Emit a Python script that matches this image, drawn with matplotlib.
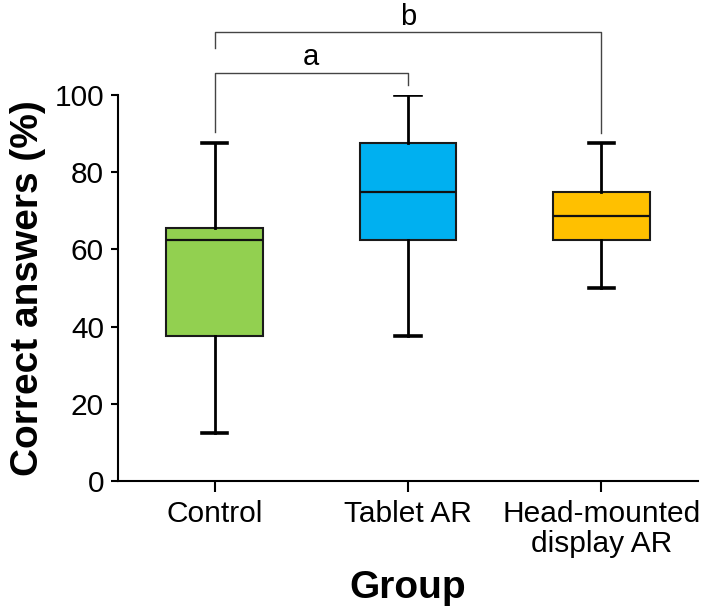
import matplotlib.pyplot as plt

plt.rcParams['font.family'] = ['Liberation Sans', 'DejaVu Sans']

# -------- datos --------
grupos = ["Control", "Tablet AR", "Head-mounted\ndisplay AR"]
minimo = [12.5, 37.5, 50.0]
q1 = [37.5, 62.5, 62.5]
mediana = [62.5, 75.0, 68.75]
q3 = [65.6, 87.5, 75.0]
maximo = [87.5, 100.0, 87.5]
colores = ["#92D050", "#00B0F0", "#FFC000"]

# comparaciones: (grupo i, grupo j, altura barra, pata i, pata j, letra)
comparaciones = [
    (1, 2, 105.8, 90.5, 102.6, "a"),
    (1, 3, 116.2, 112.3, 90.2, "b"),
]

stats = []
for i in range(len(grupos)):
    stats.append({
        "whislo": minimo[i], "q1": q1[i], "med": mediana[i],
        "q3": q3[i], "whishi": maximo[i], "fliers": [], "label": grupos[i],
    })

fig = plt.figure(figsize=(7.09, 6.11), dpi=100)
ax = fig.add_axes([0.1664, 0.2128, 0.818, 0.6317])

bp = ax.bxp(stats, positions=[1, 2, 3], widths=0.5, capwidths=0.13,
            patch_artist=True, showfliers=False,
            boxprops=dict(edgecolor="#1a1a1a", linewidth=1.5),
            medianprops=dict(color="#111111", linewidth=1.6),
            whiskerprops=dict(color="black", linewidth=2.0),
            capprops=dict(color="black", linewidth=2.6))
for caja, c in zip(bp["boxes"], colores):
    caja.set_facecolor(c)

# barras de significancia
for i, j, h, pi, pj, letra in comparaciones:
    ax.plot([i, i, j, j], [pi, h, h, pj], color="#444444", lw=1.0,
            clip_on=False)
    ax.text((i + j) / 2, h + 0.3, letra, ha="center", va="bottom",
            fontsize=21, clip_on=False)

ax.set_xlim(0.5, 3.5)
ax.set_ylim(0, 100)
ax.set_yticks([0, 20, 40, 60, 80, 100])
ax.set_xticks([1, 2, 3])
ax.set_xticklabels(grupos, linespacing=1.05)

for s in ["top", "right"]:
    ax.spines[s].set_visible(False)
for s in ["left", "bottom"]:
    ax.spines[s].set_linewidth(1.5)

ax.tick_params(axis="both", labelsize=21.5, width=1.5)
ax.tick_params(axis="y", length=5, pad=5)
ax.tick_params(axis="x", length=8, pad=6)

ax.set_ylabel("Correct answers (%)", fontsize=28, fontweight="bold",
              labelpad=6)
ax.set_xlabel("Group", fontsize=28, fontweight="bold", labelpad=9)

plt.savefig("out.png", dpi=100)
